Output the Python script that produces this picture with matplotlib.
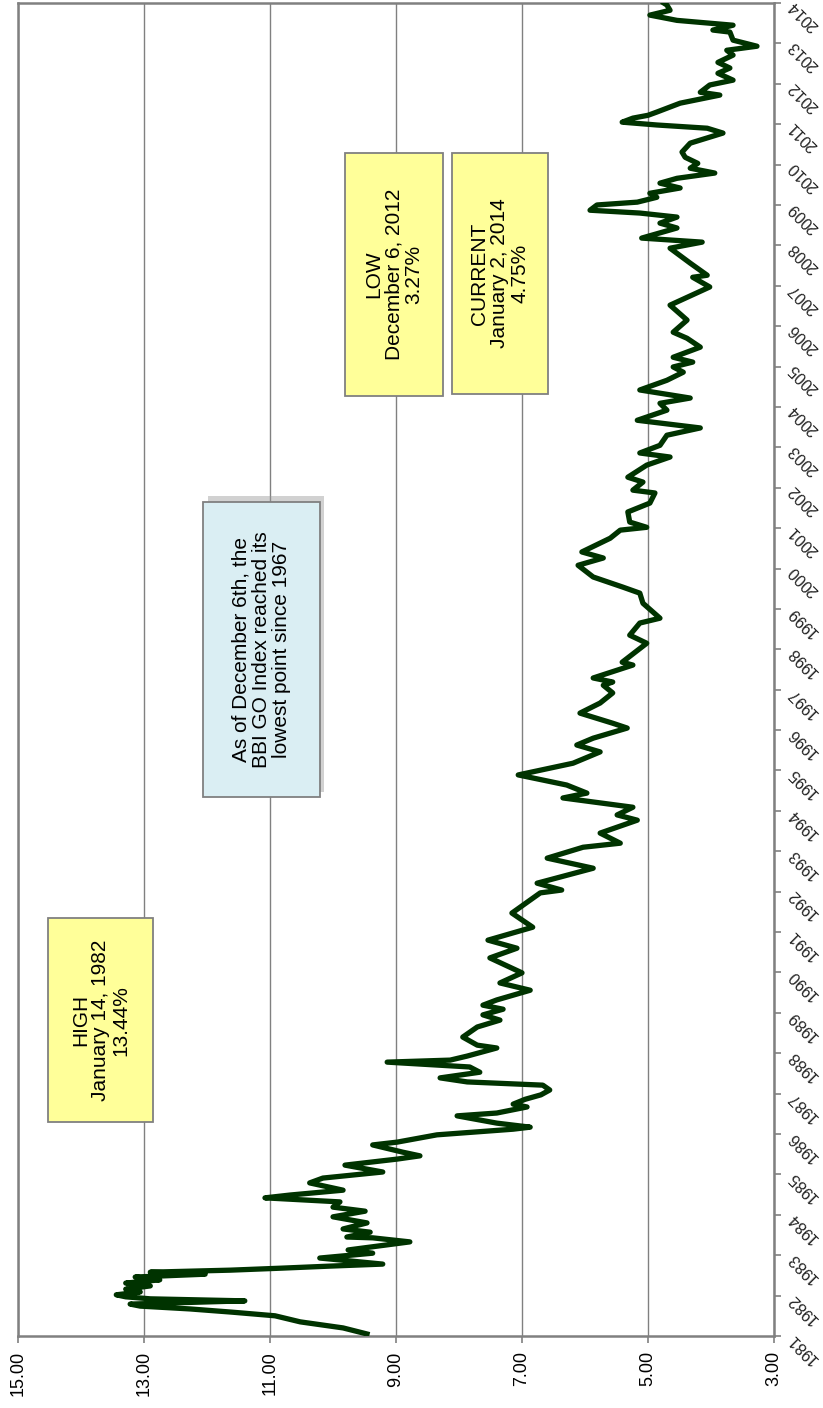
import matplotlib
matplotlib.use("Agg")
import matplotlib.pyplot as plt
from matplotlib.patches import Rectangle

plt.rcParams['font.family'] = ['Liberation Sans', 'DejaVu Sans']

# Bond Buyer GO index (decimal year, yield %)
years_81_88 = [
    1981.05, 1981.20, 1981.35, 1981.50, 1981.59, 1981.67, 1981.74, 1981.79, 1981.87, 1981.92, 1981.97,
    1982.02, 1982.09, 1982.16, 1982.24, 1982.31, 1982.39, 1982.46, 1982.53, 1982.58, 1982.63, 1982.68,
    1982.73, 1982.78, 1982.93,
    1983.05, 1983.13, 1983.33, 1983.43, 1983.45, 1983.57, 1983.65, 1983.80, 1983.95,
    1984.09, 1984.19, 1984.32, 1984.42, 1984.49, 1984.61, 1984.79, 1984.91,
    1985.06, 1985.23, 1985.38, 1985.46, 1985.55, 1985.73, 1985.80, 1985.98,
    1986.12, 1986.17, 1986.27, 1986.45, 1986.52, 1986.67, 1986.74, 1986.86, 1986.97,
    1987.09, 1987.21, 1987.29, 1987.39, 1987.53, 1987.66, 1987.78, 1987.83, 1987.93,
    1988.13, 1988.20, 1988.40, 1988.65, 1988.82, 1988.95,
]
values_81_88 = [
    9.46, 9.84, 10.52, 10.92, 11.60, 12.27, 13.06, 13.22, 11.40, 12.90, 13.29,
    13.44, 13.06, 13.29, 12.90, 13.29, 12.75, 13.14, 12.03, 12.90, 11.63, 10.81,
    10.05, 9.21, 10.21,
    9.37, 9.76, 8.78, 9.37, 9.78, 9.41, 9.84, 9.46, 10.00,
    9.49, 10.00, 9.89, 11.08, 10.68, 9.84, 10.37, 10.16,
    9.21, 9.81, 8.98, 8.62, 8.89, 9.37, 8.98, 8.35,
    7.14, 6.87, 7.40, 8.03, 7.40, 6.92, 7.14, 6.95, 6.70,
    6.56, 6.67, 7.87, 8.30, 7.67, 7.83, 9.14, 8.14, 7.87,
    7.40, 7.71, 7.94, 7.71, 7.35, 7.62,
]

years_89_97 = [
    1989.09, 1989.19, 1989.32, 1989.56, 1989.74, 1989.99,
    1990.36, 1990.60, 1990.80, 1991.12, 1991.47, 1991.97,
    1992.04, 1992.21, 1992.58, 1992.83, 1993.10, 1993.20, 1993.45, 1993.77, 1993.90,
    1994.09, 1994.32, 1994.44, 1994.64, 1994.89, 1995.18, 1995.46, 1995.63, 1995.80,
    1996.05, 1996.17, 1996.42, 1996.67, 1996.92, 1997.11, 1997.19, 1997.29, 1997.61, 1997.68,
]
values_89_97 = [
    7.30, 7.62, 7.40, 6.87, 7.35, 7.00,
    7.51, 7.08, 7.54, 6.83, 7.16, 6.71,
    6.37, 6.76, 5.87, 6.60, 6.03, 5.44, 5.76, 5.17, 5.49,
    5.24, 6.35, 5.97, 6.29, 7.06, 6.19, 5.76, 6.13, 5.87,
    5.33, 5.56, 6.08, 5.76, 5.56, 5.71, 5.56, 5.87, 5.24, 5.41,
]

years_98_05 = [
    1998.15, 1998.35, 1998.65, 1998.77, 1999.14, 1999.39, 1999.54, 1999.79,
    2000.08, 2000.26, 2000.41, 2000.75, 2000.95, 2001.02, 2001.15, 2001.40, 2001.62, 2001.87, 2001.94,
    2002.14, 2002.26, 2002.56, 2002.76, 2002.86, 2003.05, 2003.30, 2003.48, 2003.67, 2003.92,
    2004.09, 2004.22, 2004.42, 2004.66, 2004.86, 2004.99, 2005.11, 2005.23, 2005.48, 2005.70, 2005.85,
]
values_98_05 = [
    5.02, 5.29, 5.13, 4.81, 5.08, 5.13, 5.40, 5.87,
    6.11, 5.71, 6.05, 5.60, 5.44, 5.02, 5.29, 5.32, 4.97, 4.89, 5.24,
    5.08, 5.32, 5.02, 4.65, 5.13, 4.81, 4.70, 4.17, 5.17, 4.70,
    4.81, 4.33, 5.13, 4.70, 4.44, 4.60, 4.29, 4.60, 4.17, 4.38, 4.60,
]

years_06_14 = [
    2006.15, 2006.52, 2006.97, 2007.21, 2007.26, 2007.56, 2007.93,
    2008.08, 2008.18, 2008.43, 2008.55, 2008.70, 2008.80, 2008.87, 2009.00, 2009.07, 2009.19, 2009.29,
    2009.42, 2009.54, 2009.66, 2009.79, 2009.91,
    2010.03, 2010.18, 2010.31, 2010.53, 2010.78, 2010.90, 2010.98,
    2011.05, 2011.15, 2011.22, 2011.30, 2011.52, 2011.72, 2011.79, 2011.97,
    2012.09, 2012.26, 2012.39, 2012.53, 2012.71, 2012.83, 2012.93,
    2013.08, 2013.28, 2013.33, 2013.45, 2013.57, 2013.70, 2013.82, 2013.95, 2014.00,
]
values_06_14 = [
    4.38, 4.65, 4.02, 4.29, 4.06, 4.33, 4.65,
    4.14, 5.10, 4.54, 4.81, 4.54, 5.13, 5.92, 5.81, 5.17, 4.86, 4.97,
    4.49, 4.81, 4.54, 3.94, 4.33,
    4.21, 4.41, 4.46, 4.33, 3.81, 4.06, 4.86,
    5.41, 5.24, 5.00, 4.86, 4.49, 3.86, 4.17, 4.02,
    3.65, 3.89, 3.70, 3.89, 3.65, 3.75, 3.27,
    3.65, 3.70, 3.97, 3.65, 4.54, 4.97, 4.65, 4.70, 4.75,
]

years = years_81_88 + years_89_97 + years_98_05 + years_06_14
values = values_81_88 + values_89_97 + values_98_05 + values_06_14

value_ticks = [3, 5, 7, 9, 11, 13, 15]
year_ticks = list(range(1981, 2015))

notes = [
    ("HIGH\nJanuary 14, 1982\n13.44%", (0.040, 0.1605, 0.139, 0.153), "#FFFF99", False),
    ("As of December 6th, the\nBBI GO Index reached its\nlowest point since 1967", (0.245, 0.404, 0.154, 0.222), "#DAEEF3", True),
    ("LOW\nDecember 6, 2012\n3.27%", (0.4325, 0.705, 0.1295, 0.1825), "#FFFF99", False),
    ("CURRENT\nJanuary 2, 2014\n4.75%", (0.574, 0.7067, 0.127, 0.1808), "#FFFF99", False),
]

fig = plt.figure(figsize=(8.23, 14.08), dpi=100)
ax = fig.add_axes([18 / 823, 72 / 1408, 756 / 823, 1333 / 1408])

ax.plot(values, years, color='#003300', lw=3.8, solid_joinstyle='round', zorder=3)

ax.set_xlim(15, 3)
ax.set_ylim(1981, 2014)
ax.set_xticks(value_ticks, labels=[f"{v:.2f}" for v in value_ticks], rotation=90)
ax.yaxis.tick_right()
ax.set_yticks(year_ticks, labels=[str(y) for y in year_ticks],
              rotation=135, rotation_mode='anchor', ha='right', va='center')
ax.tick_params(axis='x', colors='#808080', labelcolor='black', length=5, width=1.2,
               labelsize=13, pad=6)
ax.tick_params(axis='y', colors='#808080', labelcolor='#222222', length=5, width=1.2,
               labelsize=11.5, pad=7)

ax.grid(axis='x', color='#808080', lw=1.0)
ax.set_axisbelow(True)
for s in ax.spines.values():
    s.set_color('#808080')
    s.set_linewidth(1.8)

for text, (x0, y0, w, h), fc, shadow in notes:
    if shadow:
        ax.add_patch(Rectangle((x0 + 0.006, y0 + 0.004), w, h, transform=ax.transAxes,
                               facecolor='#999999', edgecolor='none', alpha=0.45, zorder=4))
    ax.add_patch(Rectangle((x0, y0), w, h, transform=ax.transAxes,
                           facecolor=fc, edgecolor='#808080', lw=1.3, zorder=5))
    ax.text(x0 + w / 2, y0 + h / 2, text, transform=ax.transAxes, rotation=90,
            ha='center', va='center', multialignment='center', fontsize=15,
            linespacing=1.08, color='black', zorder=6)

fig.savefig("out.png", dpi=100)
